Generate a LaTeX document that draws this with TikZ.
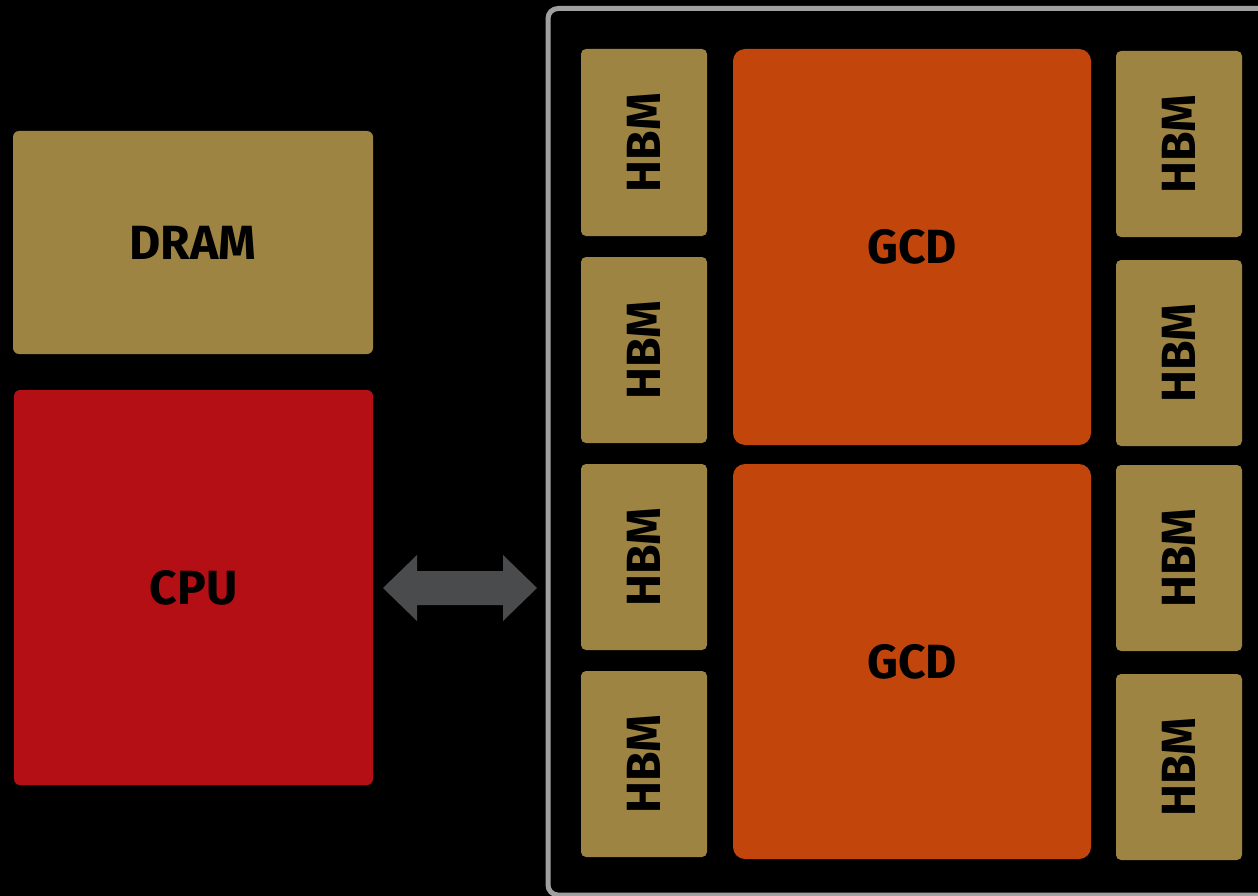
\documentclass[tikz,border=0pt]{standalone}
\usepackage{fontspec}
\setmainfont{Fira Sans}
\begin{document}
\begin{tikzpicture}[x=1pt,y=-1pt,
  lbl/.style={font=\fontsize{48}{56}\selectfont\bfseries, text=black},
  hbm/.style={fill=gold, rounded corners=5pt},
  gcd/.style={fill=gcdc, rounded corners=12pt}]
\definecolor{gold}{HTML}{9E8443}
\definecolor{gcdc}{HTML}{C2460C}
\definecolor{cpuc}{HTML}{B30F14}
\definecolor{arrowc}{HTML}{4A4B4D}
\definecolor{framec}{HTML}{A0A0A0}
\fill[black] (0,0) rectangle (1258,896);
\useasboundingbox (0,0) rectangle (1258,896);
% frame
\draw[framec, line width=5pt, rounded corners=10pt] (548,8.5) -- (1275,8.5) -- (1275,895) -- (548,895) -- cycle;
% DRAM and CPU
\fill[gold, rounded corners=6pt] (13,131) rectangle (373,354);
\node[lbl] (dram) at (193,242.5) {DRAM};
\fill[cpuc, rounded corners=6pt] (14,390) rectangle (373,785);
\node[lbl] (cpu) at (193.5,587.5) {CPU};
% arrow
\fill[arrowc] (383,588) -- (417,555) -- (417,571) -- (503,571) -- (503,555) -- (537,588)
  -- (503,621) -- (503,605) -- (417,605) -- (417,621) -- cycle;
% HBM left
\foreach \a/\b/\n in {49/236/l1,257/443/l2,464/650/l3,671/857/l4}{
  \fill[hbm] (581,\a) rectangle (707,\b);
  \node[lbl, rotate=90] (\n) at (644,{(\a+\b)/2}) {HBM};
}
\foreach \a/\b/\n in {51/237/r1,260/446/r2,465/651/r3,674/860/r4}{
  \fill[hbm] (1116,\a) rectangle (1242,\b);
  \node[lbl, rotate=90] (\n) at (1179,{(\a+\b)/2}) {HBM};
}
% GCDs
\fill[gcd] (733,49) rectangle (1091,445);
\node[lbl] (g1) at (912,247) {GCD};
\fill[gcd] (733,464) rectangle (1091,859);
\node[lbl] (g2) at (912,661.5) {GCD};
\end{tikzpicture}
\end{document}
